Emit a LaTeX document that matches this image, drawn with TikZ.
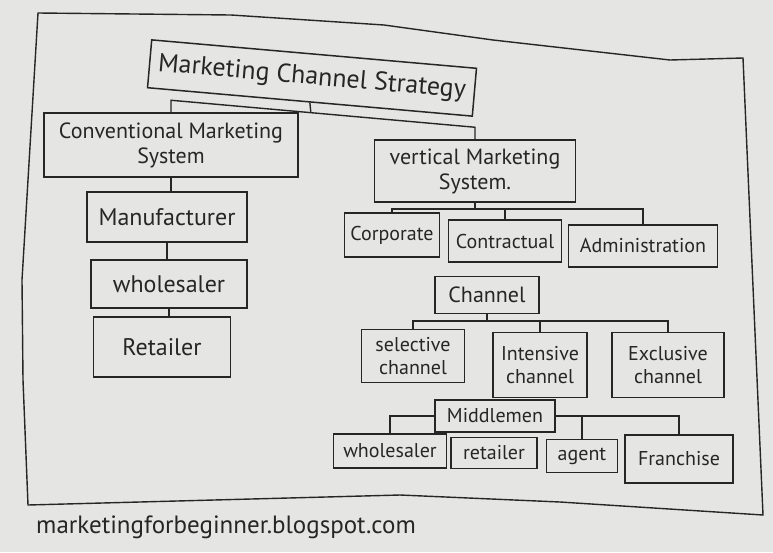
\documentclass[tikz,border=0pt]{standalone}
\usepackage{fontspec}
\setmainfont{PT Sans}
\usetikzlibrary{calc}

\definecolor{paper}{RGB}{229,230,227}
\definecolor{ink}{RGB}{38,38,38}

\begin{document}
\begin{tikzpicture}[x=1pt,y=-1pt,
    box/.style={draw=ink,line width=1.5pt,text=ink,align=center,inner sep=2pt},
    link/.style={draw=ink,line width=1.4pt},
    hugefont/.style={font=\fontsize{26}{29}\selectfont},
    bigfont/.style={font=\fontsize{24}{27}\selectfont},
    midfont/.style={font=\fontsize{22}{25}\selectfont},
    smallfont/.style={font=\fontsize{20}{23}\selectfont}]
    \useasboundingbox (0,0) rectangle (773,552);
    \fill[paper] (0,0) rectangle (773,552);
    \draw[ink,line width=1.4pt] (38,13) -- (231,15) -- (384,25) -- (493,40) -- (670,60) -- (743,58)
      -- (747,150) -- (763,515) -- (560,502) -- (400,495) -- (28,505) -- (23,380) -- (22,280) -- cycle;

    \node[box,hugefont,rotate=-5,minimum width=326pt,minimum height=48pt] (mcs) at (312,78) {Marketing Channel Strategy};
    \node[box,midfont,minimum width=254pt,minimum height=64pt] (cms) at (171,145) {Conventional Marketing\\System};
    \node[box,midfont,minimum width=201pt,minimum height=62pt] (vms) at (475,171) {vertical Marketing\\System.};

    \node[box,bigfont,minimum width=160pt,minimum height=50pt] (manu) at (167,217) {Manufacturer};
    \node[box,bigfont,minimum width=156pt,minimum height=48pt] (whole) at (169,284) {wholesaler};
    \node[box,bigfont,minimum width=137pt,minimum height=60pt] (retail) at (162,347) {Retailer};

    \node[box,smallfont,minimum width=95pt,minimum height=44pt] (corp) at (392,235) {Corporate};
    \node[box,smallfont,minimum width=113pt,minimum height=42pt] (contr) at (505,241) {Contractual};
    \node[box,smallfont,minimum width=149pt,minimum height=42pt] (admin) at (643,246) {Administration};

    \node[box,midfont,minimum width=104pt,minimum height=37pt] (chan) at (487,295) {Channel};
    \node[box,smallfont,minimum width=103pt,minimum height=53pt] (sel) at (413,356) {selective\\channel};
    \node[box,smallfont,minimum width=94pt,minimum height=65pt] (inten) at (540,365) {Intensive\\channel};
    \node[box,smallfont,minimum width=112pt,minimum height=65pt] (excl) at (668,365) {Exclusive\\channel};

    \node[box,smallfont,minimum width=120pt,minimum height=32pt] (mid) at (495,416) {Middlemen};
    \node[box,smallfont,minimum width=113pt,minimum height=34pt] (whole2) at (390,451) {wholesaler};
    \node[box,smallfont,minimum width=86pt,minimum height=31pt] (retail2) at (494,453) {retailer};
    \node[box,smallfont,minimum width=71pt,minimum height=33pt] (agent) at (582,456) {agent};
    \node[box,smallfont,minimum width=108pt,minimum height=48pt] (fran) at (679,459) {Franchise};

    \node[text=ink,font=\fontsize{25}{28}\selectfont] (url) at (226,527) {marketingforbeginner.blogspot.com};

    \coordinate (b1l) at ($(cms.north)+(0,-12)$);
    \coordinate (b1r) at ($(vms.north)+(0,-12)$);
    \draw[link] (cms.north) -- (b1l) -- (b1r) -- (vms.north);
    \draw[link] (mcs.south) -- ($(b1l)!0.46!(b1r)$);

    \draw[link] (cms.south) -- (cms.south |- manu.north);
    \draw[link] (manu.south) -- (manu.south |- whole.north);
    \draw[link] (whole.south) -- (whole.south |- retail.north);

    \coordinate (b2) at (0,209);
    \draw[link] (vms.south) -- (vms.south |- b2);
    \draw[link] (corp.north) -- (corp.north |- b2) -- (admin.north |- b2) -- (admin.north);
    \draw[link] (contr.north) -- (contr.north |- b2);

    \coordinate (b3) at (0,321);
    \draw[link] (chan.south) -- (chan.south |- b3);
    \draw[link] (sel.north) -- (sel.north |- b3) -- (excl.north |- b3) -- (excl.north);
    \draw[link] (inten.north) -- (inten.north |- b3);

    \draw[link] (mid.west) -| (whole2.north);
    \draw[link] (mid.east) -| (fran.north);
    \draw[link] (agent.north) -- (agent.north |- mid.east);
\end{tikzpicture}
\end{document}
